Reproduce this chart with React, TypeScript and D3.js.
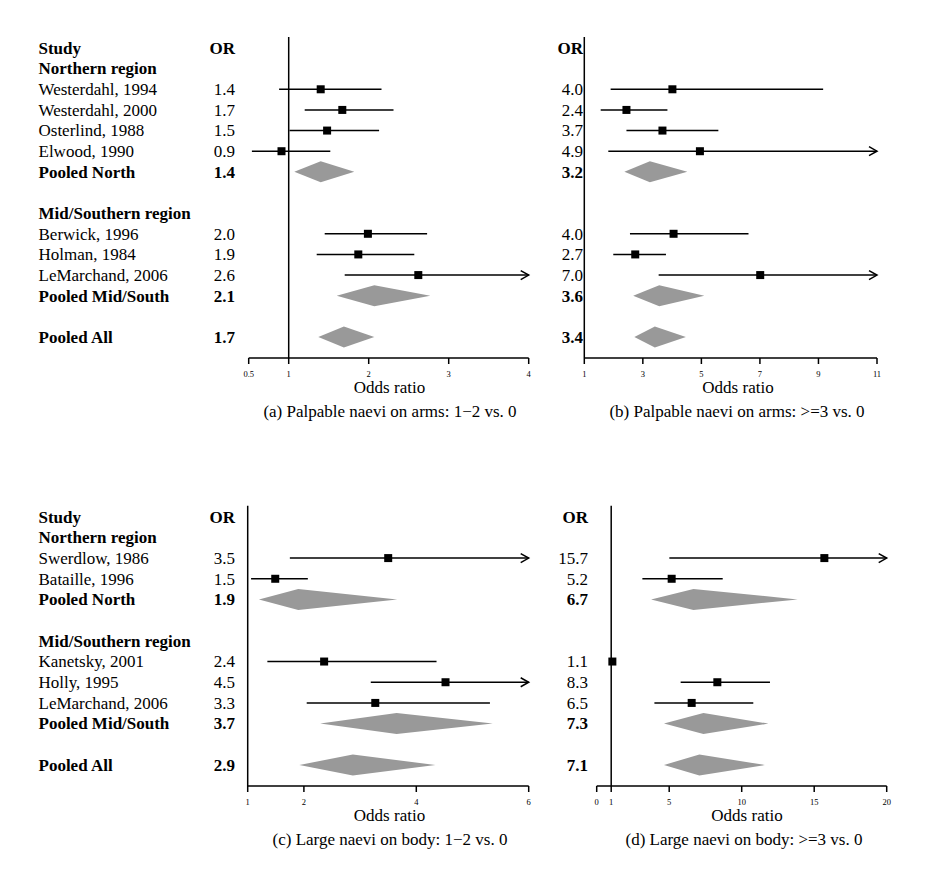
import React from "react";
import * as d3 from "d3";

// ---------- Data ----------
const armsRowLabels = [
  "Study", "Northern region", "Westerdahl, 1994", "Westerdahl, 2000", "Osterlind, 1988",
  "Elwood, 1990", "Pooled North", "", "Mid/Southern region", "Berwick, 1996",
  "Holman, 1984", "LeMarchand, 2006", "Pooled Mid/South", "", "Pooled All",
];
const armsRowTypes = [
  "head", "group", "study", "study", "study", "study", "pooled", "blank",
  "group", "study", "study", "study", "pooled", "blank", "pooled",
];
const bodyRowLabels = [
  "Study", "Northern region", "Swerdlow, 1986", "Bataille, 1996", "Pooled North", "",
  "Mid/Southern region", "Kanetsky, 2001", "Holly, 1995", "LeMarchand, 2006",
  "Pooled Mid/South", "", "Pooled All",
];
const bodyRowTypes = [
  "head", "group", "study", "study", "pooled", "blank",
  "group", "study", "study", "study", "pooled", "blank", "pooled",
];

// panel (a) palpable naevi on arms 1-2 vs 0
const aLabels = ["1.4", "1.7", "1.5", "0.9", "1.4", "2.0", "1.9", "2.6", "2.1", "1.7"];
const aOR = [1.40, 1.67, 1.48, 0.91, 1.40, 1.99, 1.87, 2.62, 2.07, 1.69];
const aLo = [0.88, 1.20, 1.01, 0.54, 1.07, 1.45, 1.35, 1.70, 1.60, 1.37];
const aHi = [2.16, 2.31, 2.13, 1.52, 1.82, 2.73, 2.57, 4.60, 2.77, 2.07];
const aTicks = [0.5, 1, 2, 3, 4];

// panel (b) palpable naevi on arms >=3 vs 0
const bLabels = ["4.0", "2.4", "3.7", "4.9", "3.2", "4.0", "2.7", "7.0", "3.6", "3.4"];
const bOR = [4.01, 2.44, 3.67, 4.95, 3.24, 4.05, 2.74, 7.01, 3.56, 3.41];
const bLo = [1.90, 1.56, 2.44, 1.82, 2.37, 2.56, 1.99, 3.54, 2.67, 2.71];
const bHi = [9.16, 3.84, 5.58, 13.5, 4.52, 6.61, 3.79, 13.9, 5.10, 4.47];
const bTicks = [1, 3, 5, 7, 9, 11];

// panel (c) large naevi on body 1-2 vs 0
const cLabels = ["3.5", "1.5", "1.9", "2.4", "4.5", "3.3", "3.7", "2.9"];
const cOR = [3.50, 1.49, 1.90, 2.36, 4.52, 3.27, 3.65, 2.87];
const cLo = [1.75, 1.06, 1.20, 1.35, 3.19, 2.05, 2.29, 1.92];
const cHi = [7.00, 2.07, 3.66, 4.36, 6.40, 5.31, 5.36, 4.34];
const cTicks = [1, 2, 4, 6];

// panel (d) large naevi on body >=3 vs 0
const dLabels = ["15.7", "5.2", "6.7", "1.1", "8.3", "6.5", "7.3", "7.1"];
const dOR = [15.7, 5.17, 6.67, 1.08, 8.32, 6.55, 7.36, 7.08];
const dLo = [5.01, 3.15, 3.75, 1.00, 5.79, 3.98, 4.64, 4.64];
const dHi = [24.0, 8.69, 13.86, 1.20, 11.95, 10.8, 11.84, 11.6];
const dTicks = [0, 1, 5, 10, 15, 20];

const captions = [
  "(a) Palpable naevi on arms: 1\u22122 vs. 0",
  "(b) Palpable naevi on arms: >=3 vs. 0",
  "(c) Large naevi on body: 1\u22122 vs. 0",
  "(d) Large naevi on body: >=3 vs. 0",
];

const FONT = "'Liberation Serif', 'Times New Roman', serif";

type PanelProps = {
  rowLabels: string[];
  rowTypes: string[];
  showStudy: boolean;
  orLabels: string[];
  or: number[];
  lo: number[];
  hi: number[];
  ticks: number[];
  xRange: [number, number];
  yTop: number;
  rowStep: number;
  axisY: number;
  orRight: number;
  xlabCx: number;
  capCx: number;
  caption: string;
};

function Panel(p: PanelProps) {
  const dom: [number, number] = [p.ticks[0], p.ticks[p.ticks.length - 1]];
  const x = d3.scaleLinear().domain(dom).range(p.xRange);
  const y = d3.scaleLinear().domain([0, p.rowLabels.length - 1]).range([p.yTop, p.yTop + p.rowStep * (p.rowLabels.length - 1)]);
  const dataRows: number[] = [];
  p.rowTypes.forEach((t, i) => { if (t === "study" || t === "pooled") dataRows.push(i); });
  const xMax = x(dom[1]);
  const xMin = x(dom[0]);
  const halfD = 10.5;
  const sq = 8;
  return (
    <g fontFamily={FONT}>
      {/* row labels */}
      {p.showStudy && p.rowLabels.map((l, i) => (
        <text key={"l" + i} x={38.5} y={y(i) + 5.8} fontSize={17}
          fontWeight={p.rowTypes[i] === "study" ? "normal" : "bold"} fill="#000">{l}</text>
      ))}
      <text x={p.orRight} y={y(0) + 5.8} fontSize={17} fontWeight="bold" textAnchor="end">OR</text>
      {dataRows.map((r, k) => (
        <text key={"o" + k} x={p.orRight} y={y(r) + 5.8} fontSize={17} textAnchor="end"
          fontWeight={p.rowTypes[r] === "pooled" ? "bold" : "normal"}>{p.orLabels[k]}</text>
      ))}
      {/* reference line */}
      <line x1={x(1)} x2={x(1)} y1={y(0) - 11} y2={p.axisY} stroke="#000" strokeWidth={1.5} />
      {/* marks */}
      {dataRows.map((r, k) => {
        const cy = y(r);
        const lo = x(Math.max(p.lo[k], dom[0]));
        const over = p.hi[k] > dom[1];
        const hi = x(Math.min(p.hi[k], dom[1]));
        const cx = x(p.or[k]);
        if (p.rowTypes[r] === "pooled") {
          return (
            <polygon key={"m" + k} points={`${lo},${cy} ${cx},${cy - halfD} ${hi},${cy} ${cx},${cy + halfD}`}
              fill="#999999" stroke="none" />
          );
        }
        return (
          <g key={"m" + k}>
            <line x1={lo} x2={hi} y1={cy} y2={cy} stroke="#000" strokeWidth={1.5} />
            {over && (
              <path d={`M${hi - 8},${cy - 4.5} L${hi},${cy} L${hi - 8},${cy + 4.5}`} fill="none" stroke="#000" strokeWidth={1.5} />
            )}
            <rect x={cx - sq / 2} y={cy - sq / 2} width={sq} height={sq} fill="#000" />
          </g>
        );
      })}
      {/* axis */}
      <line x1={xMin} x2={xMax} y1={p.axisY} y2={p.axisY} stroke="#000" strokeWidth={1.5} />
      {p.ticks.map((t, i) => (
        <g key={"t" + i}>
          <line x1={x(t)} x2={x(t)} y1={p.axisY} y2={p.axisY + 6} stroke="#000" strokeWidth={1.5} />
          <text x={x(t)} y={p.axisY + 19} fontSize={8.5} textAnchor="middle">{String(t)}</text>
        </g>
      ))}
      <text x={p.xlabCx} y={p.axisY + 35} fontSize={17} textAnchor="middle">Odds ratio</text>
      <text x={p.capCx} y={p.axisY + 59} fontSize={17} textAnchor="middle">{p.caption}</text>
    </g>
  );
}

export default function App() {
  const topStep = (337 - 48) / 14;
  const botStep = (765 - 516.7) / 12;
  return (
    <svg width={928} height={884} style={{ position: "absolute", left: 0, top: 0, background: "#fff" }}>
      <rect width={928} height={884} fill="#fff" />
      <Panel rowLabels={armsRowLabels} rowTypes={armsRowTypes} showStudy={true}
        orLabels={aLabels} or={aOR} lo={aLo} hi={aHi} ticks={aTicks}
        xRange={[248.7, 528.7]} yTop={48} rowStep={topStep} axisY={358}
        orRight={235} xlabCx={389.5} capCx={390} caption={captions[0]} />
      <Panel rowLabels={armsRowLabels} rowTypes={armsRowTypes} showStudy={false}
        orLabels={bLabels} or={bOR} lo={bLo} hi={bHi} ticks={bTicks}
        xRange={[584.3, 877]} yTop={48} rowStep={topStep} axisY={358}
        orRight={583} xlabCx={738} capCx={737} caption={captions[1]} />
      <Panel rowLabels={bodyRowLabels} rowTypes={bodyRowTypes} showStudy={true}
        orLabels={cLabels} or={cOR} lo={cLo} hi={cHi} ticks={cTicks}
        xRange={[247.7, 528.7]} yTop={516.7} rowStep={botStep} axisY={786}
        orRight={235} xlabCx={389.5} capCx={390} caption={captions[2]} />
      <Panel rowLabels={bodyRowLabels} rowTypes={bodyRowTypes} showStudy={false}
        orLabels={dLabels} or={dOR} lo={dLo} hi={dHi} ticks={dTicks}
        xRange={[596.7, 886.7]} yTop={516.7} rowStep={botStep} axisY={786}
        orRight={588} xlabCx={747} capCx={744} caption={captions[3]} />
    </svg>
  );
}
